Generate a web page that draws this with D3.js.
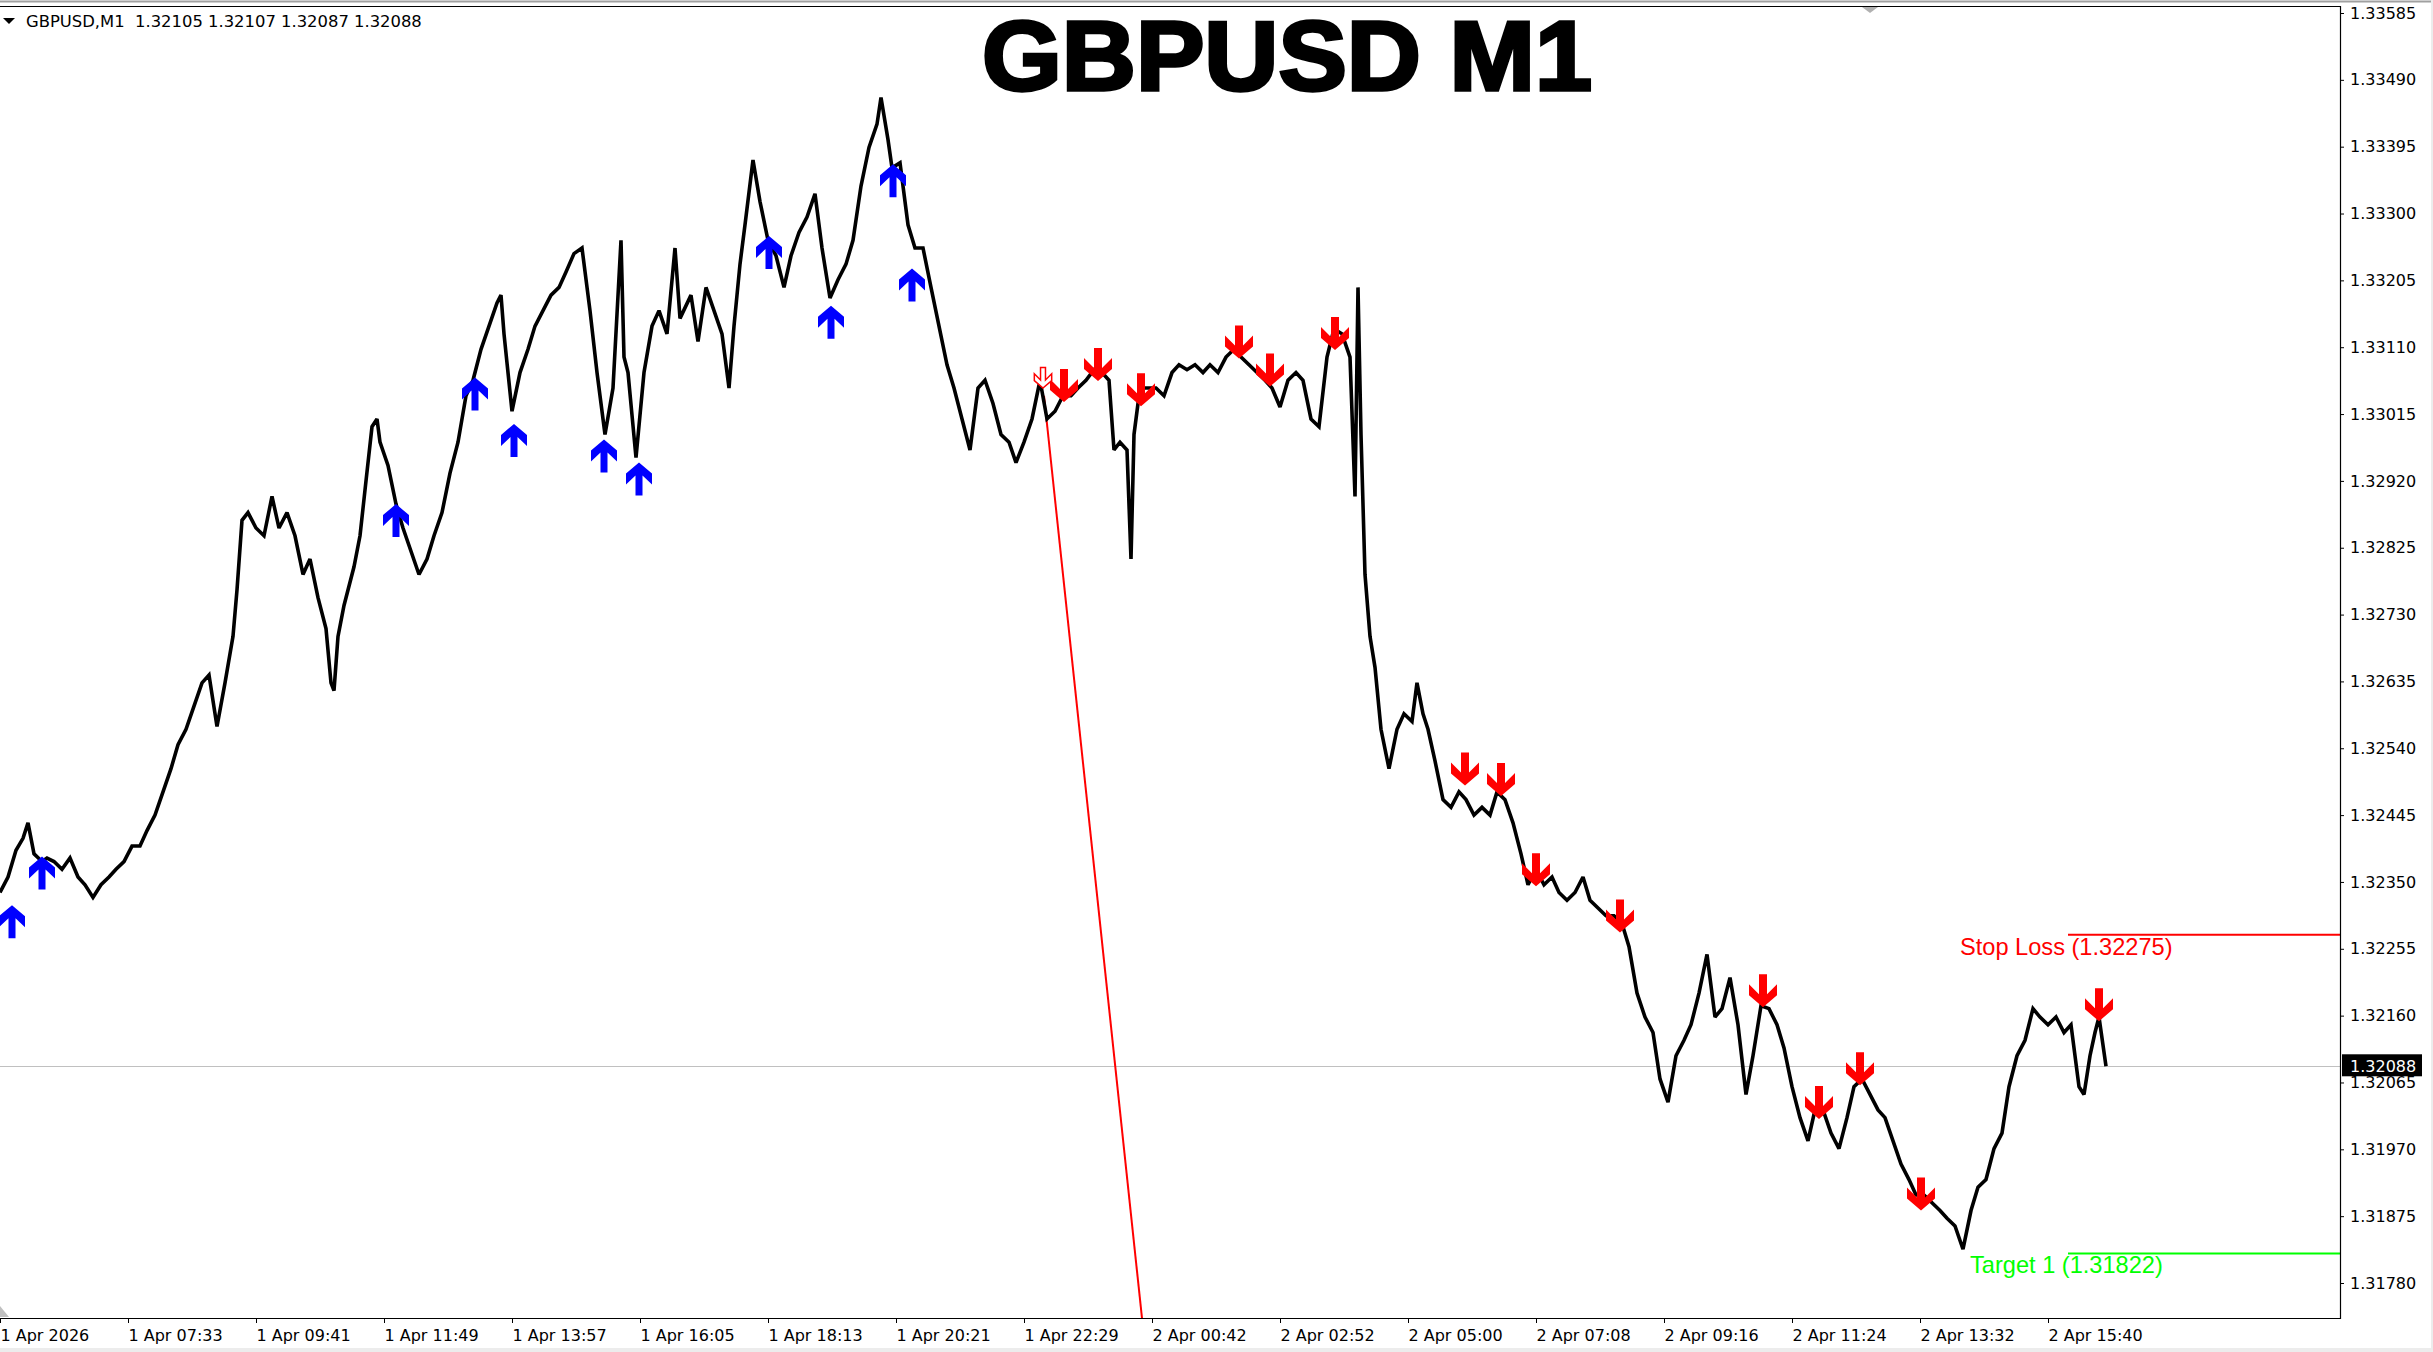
<!DOCTYPE html>
<html>
<head>
<meta charset="utf-8">
<script src="https://cdn.jsdelivr.net/npm/d3@7"></script>
<style>
body { margin: 0; background: #fff; }
svg { display: block; }
</style>
</head>
<body>
<div id="chart"></div>
<script>
var w = 2433, h = 1352;
var plotR = 2340, plotT = 6, plotB = 1318;

// [minute index from first bar, price]
var priceLine = [
 [0,1.32335],[8,1.32357],[16,1.32395],[23,1.32412],[28,1.32434],[34,1.32390],[42,1.32379],[47,1.32384],
 [54,1.32379],[62,1.32368],[70,1.32384],[78,1.32357],[85,1.32346],[93,1.32328],[101,1.32346],[109,1.32357],
 [116,1.32368],[124,1.32379],[132,1.32401],[140,1.32401],[147,1.32423],[155,1.32445],[163,1.32478],[171,1.32511],
 [178,1.32545],[186,1.32567],[194,1.32600],[202,1.32633],[209,1.32644],[217,1.32571],[225,1.32633],[233,1.32699],
 [237,1.32765],[242,1.32864],[248,1.32875],[256,1.32853],[264,1.32842],[272,1.32898],[279,1.32853],[287,1.32875],
 [295,1.32842],[303,1.32787],[310,1.32809],[318,1.32754],[326,1.32710],[331,1.32633],[334,1.32622],[338,1.32699],
 [344,1.32743],[354,1.32798],[360,1.32842],[366,1.32920],[372,1.32997],[377,1.33008],[380,1.32975],[388,1.32942],
 [396,1.32887],[403,1.32853],[411,1.32820],[419,1.32787],[427,1.32809],[434,1.32842],[442,1.32875],[450,1.32931],
 [458,1.32975],[466,1.33041],[473,1.33063],[481,1.33107],[489,1.33140],[497,1.33173],[501,1.33184],[504,1.33129],
 [512,1.33019],[520,1.33074],[528,1.33107],[535,1.33140],[543,1.33162],[551,1.33184],[559,1.33195],[566,1.33217],
 [574,1.33243],[582,1.33251],[590,1.33162],[597,1.33074],[605,1.32986],[613,1.33052],[621,1.33262],[624,1.33096],
 [628,1.33074],[636,1.32953],[644,1.33074],[652,1.33140],[659,1.33162],[667,1.33129],[675,1.33251],[680,1.33151],
 [691,1.33184],[698,1.33118],[706,1.33195],[714,1.33162],[722,1.33129],[729,1.33052],[734,1.33140],[740,1.33228],
 [745,1.33284],[753,1.33376],[760,1.33317],[768,1.33262],[776,1.33240],[784,1.33195],[791,1.33240],[799,1.33273],
 [807,1.33295],[815,1.33328],[822,1.33251],[830,1.33180],[838,1.33206],[846,1.33228],[853,1.33262],[861,1.33339],
 [869,1.33394],[877,1.33427],[881,1.33465],[888,1.33405],[892,1.33365],[900,1.33372],[908,1.33284],[915,1.33251],
 [923,1.33251],[931,1.33195],[939,1.33140],[947,1.33085],[954,1.33052],[962,1.33008],[970,1.32964],[978,1.33052],
 [985,1.33063],[993,1.33030],[1001,1.32986],[1009,1.32975],[1016,1.32946],[1024,1.32975],[1032,1.33008],[1040,1.33063],
 [1047,1.33008],[1055,1.33019],[1063,1.33041],[1071,1.33041],[1078,1.33052],[1086,1.33063],[1094,1.33078],[1102,1.33074],
 [1109,1.33063],[1114,1.32964],[1120,1.32975],[1127,1.32964],[1131,1.32809],[1134,1.32986],[1140,1.33052],[1148,1.33052],
 [1156,1.33052],[1164,1.33041],[1172,1.33074],[1179,1.33085],[1187,1.33078],[1195,1.33085],[1203,1.33074],[1210,1.33085],
 [1218,1.33074],[1226,1.33096],[1234,1.33107],[1241,1.33096],[1249,1.33085],[1257,1.33074],[1265,1.33063],[1272,1.33052],
 [1280,1.33025],[1288,1.33063],[1296,1.33074],[1303,1.33063],[1311,1.33008],[1319,1.32997],[1327,1.33096],[1334,1.33136],
 [1342,1.33129],[1350,1.33096],[1355,1.32898],[1358,1.33195],[1361,1.32986],[1365,1.32787],[1370,1.32699],[1375,1.32655],
 [1381,1.32567],[1389,1.32511],[1397,1.32567],[1404,1.32589],[1412,1.32578],[1417,1.32633],[1423,1.32589],[1428,1.32567],
 [1435,1.32522],[1443,1.32467],[1451,1.32456],[1459,1.32478],[1466,1.32467],[1474,1.32445],[1482,1.32456],[1490,1.32445],
 [1497,1.32478],[1505,1.32467],[1513,1.32434],[1521,1.32390],[1528,1.32346],[1536,1.32368],[1544,1.32346],[1552,1.32357],
 [1559,1.32335],[1567,1.32324],[1575,1.32335],[1583,1.32357],[1590,1.32324],[1598,1.32313],[1606,1.32302],[1614,1.32302],
 [1622,1.32291],[1629,1.32258],[1637,1.32192],[1645,1.32158],[1653,1.32136],[1660,1.32070],[1668,1.32037],[1676,1.32103],
 [1684,1.32125],[1691,1.32147],[1699,1.32192],[1707,1.32247],[1715,1.32158],[1722,1.32170],[1730,1.32214],[1738,1.32147],
 [1746,1.32048],[1753,1.32103],[1761,1.32174],[1769,1.32170],[1777,1.32147],[1784,1.32114],[1792,1.32059],[1800,1.32015],
 [1808,1.31982],[1815,1.32026],[1823,1.32026],[1831,1.31993],[1839,1.31971],[1847,1.32015],[1854,1.32059],[1862,1.32070],
 [1870,1.32048],[1878,1.32026],[1885,1.32015],[1893,1.31982],[1901,1.31949],[1909,1.31927],[1916,1.31905],[1924,1.31905],
 [1932,1.31894],[1940,1.31883],[1947,1.31872],[1955,1.31861],[1963,1.31828],[1971,1.31883],[1978,1.31916],[1986,1.31927],
 [1994,1.31971],[2002,1.31993],[2009,1.32059],[2017,1.32103],[2025,1.32125],[2033,1.32170],[2040,1.32158],[2048,1.32147],
 [2056,1.32158],[2064,1.32136],[2071,1.32147],[2079,1.32059],[2084,1.32048],[2090,1.32103],[2095,1.32136],[2099,1.32158],
 [2106,1.32088]
];

// signal arrows: [minute index, price at arrow tip]
var buySignals = [[12,1.32317],[42,1.32386],[396,1.32887],[475,1.33067],[514,1.33001],[604,1.32979],
                  [639,1.32946],[769,1.33268],[831,1.33169],[893,1.33370],[912,1.33222]];
var sellSignals = [[1064,1.33032],[1098,1.33062],[1141,1.33026],[1239,1.33094],[1270,1.33054],[1335,1.33106],
                   [1465,1.32487],[1501,1.32472],[1536,1.32344],[1620,1.32278],[1763,1.32172],[1819,1.32013],
                   [1860,1.32061],[1921,1.31883],[2099,1.32152]];
var entryMark = [1043, 1.33052];

var trendLine = [[1044, 1.33041], [1142, 1.31730]];

var priceTicks = [1.33585,1.33490,1.33395,1.33300,1.33205,1.33110,1.33015,1.32920,1.32825,1.32730,
                  1.32635,1.32540,1.32445,1.32350,1.32255,1.32160,1.32065,1.31970,1.31875,1.31780];
var timeTicks = [0,128,256,384,512,640,768,896,1024,1152,1280,1408,1536,1664,1792,1920,2048];
var timeLabels = ["1 Apr 2026","1 Apr 07:33","1 Apr 09:41","1 Apr 11:49","1 Apr 13:57","1 Apr 16:05",
                  "1 Apr 18:13","1 Apr 20:21","1 Apr 22:29","2 Apr 00:42","2 Apr 02:52","2 Apr 05:00",
                  "2 Apr 07:08","2 Apr 09:16","2 Apr 11:24","2 Apr 13:32","2 Apr 15:40"];

var stopLoss = 1.32275, target1 = 1.31822, lastPrice = 1.32088;
var levelStart = 2068;
var ohlc = "1.32105 1.32107 1.32087 1.32088";

var axisFont = "'DejaVu Sans', Verdana, sans-serif";
var labelFont = "'Liberation Sans', Arial, sans-serif";

var svg = d3.select('#chart').append('svg')
    .attr('width', w).attr('height', h)
    .style('background', '#fff');

var x = d3.scaleLinear().domain([0, plotR]).range([0, plotR]);
var y = d3.scaleLinear().domain([1.31780, 1.33585]).range([1283, 13]);

// window chrome
svg.append('line').attr('x1', 0).attr('x2', w).attr('y1', 1.5).attr('y2', 1.5)
    .attr('stroke', '#a0a0a0').attr('stroke-width', 2);
svg.append('rect').attr('x', 0).attr('y', 1348).attr('width', w).attr('height', 4).attr('fill', '#ececec');
svg.append('rect').attr('x', 2431).attr('y', 0).attr('width', 2).attr('height', h).attr('fill', '#ececec');

svg.append('clipPath').attr('id', 'plot')
  .append('rect').attr('x', 0).attr('y', plotT).attr('width', plotR).attr('height', plotB - plotT);

// y axis on the right
var yAxis = d3.axisRight(y).tickValues(priceTicks).tickSize(4).tickPadding(6)
    .tickFormat(d3.format('.5f'));
var gy = svg.append('g').attr('transform', 'translate(' + plotR + ',0)').call(yAxis);
gy.select('.domain').remove();
gy.selectAll('text').attr('font-family', axisFont).attr('font-size', 16).attr('fill', '#000');
gy.selectAll('line').attr('stroke', '#000');

// x axis
var xAxis = d3.axisBottom(x).tickValues(timeTicks).tickSize(5).tickPadding(7)
    .tickFormat(function (d, i) { return timeLabels[i]; });
var gx = svg.append('g').attr('transform', 'translate(0,' + plotB + ')').call(xAxis);
gx.select('.domain').remove();
gx.selectAll('text').attr('font-family', axisFont).attr('font-size', 16).attr('fill', '#000')
    .attr('text-anchor', 'start').attr('x', 0);
gx.selectAll('line').attr('stroke', '#000');

var plot = svg.append('g').attr('clip-path', 'url(#plot)');

// last price line
plot.append('line').attr('x1', 0).attr('x2', plotR)
    .attr('y1', Math.round(y(lastPrice)) + 0.5).attr('y2', Math.round(y(lastPrice)) + 0.5)
    .attr('stroke', '#c0c0c0').attr('stroke-width', 1);

// the red ray from the entry
plot.append('line')
    .attr('x1', x(trendLine[0][0])).attr('y1', y(trendLine[0][1]))
    .attr('x2', x(trendLine[1][0])).attr('y2', y(trendLine[1][1]))
    .attr('stroke', '#ff0000').attr('stroke-width', 2);

// price (drawn heavy, M1 bars are packed 1px apart in the original)
var line = d3.line().x(function (d) { return x(d[0]); }).y(function (d) { return y(d[1]); });
plot.append('path').datum(priceLine).attr('d', line)
    .attr('fill', 'none').attr('stroke', '#000').attr('stroke-width', 3.6)
    .attr('stroke-linejoin', 'miter').attr('stroke-miterlimit', 2.5);

// stop loss / target levels
plot.append('line').attr('x1', x(levelStart)).attr('x2', plotR)
    .attr('y1', y(stopLoss)).attr('y2', y(stopLoss)).attr('stroke', '#ff0000').attr('stroke-width', 2);
plot.append('line').attr('x1', x(levelStart)).attr('x2', plotR)
    .attr('y1', y(target1)).attr('y2', y(target1)).attr('stroke', '#00ff00').attr('stroke-width', 2);
plot.append('text').attr('x', x(1960)).attr('y', y(stopLoss) + 20)
    .attr('font-family', labelFont).attr('font-size', 23.6).attr('fill', '#ff0000')
    .text('Stop Loss (' + stopLoss.toFixed(5) + ')');
plot.append('text').attr('x', x(1970)).attr('y', y(target1) + 20)
    .attr('font-family', labelFont).attr('font-size', 23.6).attr('fill', '#00ff00')
    .text('Target 1 (' + target1.toFixed(5) + ')');

// arrows
function upArrow(d) {
  var tx = x(d[0]), ty = y(d[1]);
  return 'M' + tx + ',' + ty + 'L' + (tx + 13) + ',' + (ty + 11) + 'L' + (tx + 13) + ',' + (ty + 22) +
         'L' + (tx + 3.5) + ',' + (ty + 13) + 'L' + (tx + 3.5) + ',' + (ty + 33) + 'L' + (tx - 3.5) + ',' + (ty + 33) +
         'L' + (tx - 3.5) + ',' + (ty + 13) + 'L' + (tx - 13) + ',' + (ty + 22) + 'L' + (tx - 13) + ',' + (ty + 11) + 'Z';
}
function downArrow(d, s) {
  var tx = x(d[0]), ty = y(d[1]);
  var hw = 14 * s, a = 12 * s, b = 23 * s, sw = 4 * s, j = 13 * s, len = 33 * s;
  return 'M' + tx + ',' + ty + 'L' + (tx + hw) + ',' + (ty - a) + 'L' + (tx + hw) + ',' + (ty - b) +
         'L' + (tx + sw) + ',' + (ty - j) + 'L' + (tx + sw) + ',' + (ty - len) + 'L' + (tx - sw) + ',' + (ty - len) +
         'L' + (tx - sw) + ',' + (ty - j) + 'L' + (tx - hw) + ',' + (ty - b) + 'L' + (tx - hw) + ',' + (ty - a) + 'Z';
}

plot.selectAll('.buy').data(buySignals).enter().append('path')
    .attr('class', 'buy').attr('d', upArrow).attr('fill', '#0000ff');
plot.selectAll('.sell').data(sellSignals).enter().append('path')
    .attr('class', 'sell').attr('d', function (d) { return downArrow(d, 1); }).attr('fill', '#ff0000');
plot.append('path').attr('d', downArrow(entryMark, 0.62))
    .attr('fill', '#fff').attr('stroke', '#ff0000').attr('stroke-width', 1.5);

// frame
svg.append('path')
    .attr('d', 'M0,' + (plotT + 0.5) + 'H' + (plotR + 0.5) + 'V' + (plotB + 0.5) + 'H0')
    .attr('fill', 'none').attr('stroke', '#000').attr('stroke-width', 1.2);

// small shift markers
svg.append('path').attr('d', 'M1862,7 L1878,7 L1870,13 Z').attr('fill', '#b0b0b0');
svg.append('path').attr('d', 'M0,1306 L9,1317 L0,1317 Z').attr('fill', '#c0c0c0');

// last price box
var ly = y(lastPrice);
svg.append('rect').attr('x', plotR + 2).attr('y', ly - 12).attr('width', 80).attr('height', 22).attr('fill', '#000');
svg.append('text').attr('x', plotR + 10).attr('y', ly + 6)
    .attr('font-family', axisFont).attr('font-size', 16).attr('fill', '#fff')
    .text(lastPrice.toFixed(5));

// header
svg.append('path').attr('d', 'M3,18 L15,18 L9,24 Z').attr('fill', '#000');
svg.append('text').attr('x', 26).attr('y', 27)
    .attr('font-family', axisFont).attr('font-size', 16.4).attr('fill', '#000')
    .attr('xml:space', 'preserve')
    .text('GBPUSD,M1  ' + ohlc);

// title
svg.append('text').attr('x', 982).attr('y', 90)
    .attr('font-family', labelFont).attr('font-weight', 'bold').attr('font-size', 98)
    .attr('fill', '#000').attr('stroke', '#000').attr('stroke-width', 3.5)
    .attr('textLength', 610).attr('lengthAdjust', 'spacingAndGlyphs')
    .text('GBPUSD M1');
</script>
</body>
</html>
